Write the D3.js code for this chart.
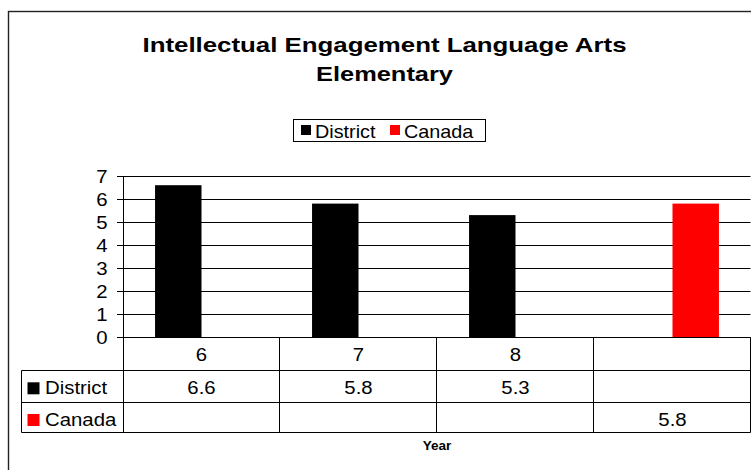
<!DOCTYPE html>
<html>
<head>
<meta charset="utf-8">
<script src="https://cdn.jsdelivr.net/npm/d3@7/dist/d3.min.js"></script>
<style>
  html, body { margin: 0; padding: 0; background: #fff; }
  svg { display: block; font-family: "Liberation Sans", Arial, sans-serif; }
</style>
</head>
<body>
<svg id="chart" width="751" height="470"></svg>
<script>
// ---- data ----
const titleLines = ["Intellectual Engagement Language Arts", "Elementary"];
const categories = ["6", "7", "8", ""];
const seriesNames = ["District", "Canada"];
const districtValues = [6.6, 5.8, 5.3, null];
const canadaValues = [null, null, null, 5.8];
const yTicks = [0, 1, 2, 3, 4, 5, 6, 7];
const xAxisTitle = "Year";
const seriesColors = ["#000000", "#FF0000"];

const series = [
  { name: seriesNames[0], values: districtValues, color: seriesColors[0] },
  { name: seriesNames[1], values: canadaValues, color: seriesColors[1] }
];

const svg = d3.select("#chart");
const SX = 1.1; // horizontal stretch of the original rendering
const FS = 18.5;

// outer frame
svg.append("rect")
  .attr("x", 8.5).attr("y", 11.5).attr("width", 760).attr("height", 470)
  .attr("fill", "none").attr("stroke", "#222").attr("stroke-width", 1.4);

// title
const titleWidths = [484, 137];
titleLines.forEach((t, i) => {
  svg.append("text")
    .attr("x", 384.5).attr("y", 52 + i * 29)
    .attr("text-anchor", "middle")
    .attr("font-size", 20.5).attr("font-weight", "bold")
    .attr("textLength", titleWidths[i]).attr("lengthAdjust", "spacingAndGlyphs")
    .attr("fill", "#000")
    .text(t);
});

function stretchedText(g, x, y, txt, anchor, size, weight) {
  return g.append("text")
    .attr("transform", `translate(${x},${y}) scale(${SX},1)`)
    .attr("text-anchor", anchor || "start")
    .attr("font-size", size || FS)
    .attr("font-weight", weight || "normal")
    .attr("fill", "#000")
    .text(txt);
}

// legend
const legend = svg.append("g");
legend.append("rect")
  .attr("x", 293.5).attr("y", 119.5).attr("width", 192).attr("height", 22)
  .attr("fill", "#fff").attr("stroke", "#000").attr("stroke-width", 1);
const legendItems = [{ x: 301 }, { x: 390 }];
series.forEach((s, i) => {
  legend.append("rect")
    .attr("x", legendItems[i].x).attr("y", 125).attr("width", 10).attr("height", 10)
    .attr("fill", s.color);
  stretchedText(legend, legendItems[i].x + 14, 137.5, s.name, "start", 18);
});

// scales
const plotLeft = 123, plotRight = 751, plotTop = 176, plotBottom = 337;
const x = d3.scaleBand().domain(categories.map((c, i) => i)).range([plotLeft, plotRight]);
const xs = d3.scaleBand().domain(seriesNames).range([0, x.bandwidth()]).paddingInner(0).paddingOuter(0.69);
const y = d3.scaleLinear().domain([0, 7]).range([plotBottom, plotTop]);

// gridlines
const grid = svg.append("g");
yTicks.forEach(v => {
  const yy = Math.round(y(v)) + 0.5;
  grid.append("line")
    .attr("x1", plotLeft - 6).attr("x2", 750.5)
    .attr("y1", yy).attr("y2", yy)
    .attr("stroke", "#000").attr("stroke-width", 1);
  stretchedText(grid, 107.5, yy + 6.5, String(v), "end", FS);
});
// y axis line
svg.append("line")
  .attr("x1", plotLeft + 0.5).attr("x2", plotLeft + 0.5)
  .attr("y1", Math.round(y(7)) + 0.5).attr("y2", 432.5)
  .attr("stroke", "#000");

// bars
const bars = svg.append("g");
series.forEach(s => {
  s.values.forEach((v, i) => {
    if (v == null) return;
    bars.append("rect")
      .attr("x", x(i) + xs(s.name))
      .attr("width", xs.bandwidth())
      .attr("y", y(v))
      .attr("height", y(0) - y(v))
      .attr("fill", s.color);
  });
});
// redraw axis line on top of bars
svg.append("line")
  .attr("x1", plotLeft - 6).attr("x2", 750.5)
  .attr("y1", Math.round(y(0)) + 0.5).attr("y2", Math.round(y(0)) + 0.5)
  .attr("stroke", "#000");

// data table
const table = svg.append("g");
const rowLines = [370, 401.7, 432.3].map(v => Math.round(v) + 0.5);
const tableLeft = 21.5;
rowLines.forEach(ry => {
  table.append("line").attr("x1", tableLeft).attr("x2", 750.5)
    .attr("y1", ry).attr("y2", ry).attr("stroke", "#000");
});
table.append("line").attr("x1", tableLeft).attr("x2", tableLeft)
  .attr("y1", rowLines[0]).attr("y2", rowLines[2]).attr("stroke", "#000");
categories.forEach((c, i) => {
  const vx = Math.round(x(i) + x.bandwidth()) - 0.5;
  table.append("line").attr("x1", vx).attr("x2", vx)
    .attr("y1", Math.round(y(0)) + 0.5).attr("y2", rowLines[2]).attr("stroke", "#000");
  // category label
  stretchedText(table, x(i) + x.bandwidth() / 2, 361, c, "middle", FS);
});
const rowBaselines = [394.3, 426];
series.forEach((s, r) => {
  table.append("rect")
    .attr("x", 27.5).attr("y", rowBaselines[r] - 12).attr("width", 12).attr("height", 12)
    .attr("fill", s.color);
  stretchedText(table, 45, rowBaselines[r], s.name, "start", FS);
  s.values.forEach((v, i) => {
    if (v == null) return;
    stretchedText(table, x(i) + x.bandwidth() / 2, rowBaselines[r], d3.format(".1f")(v), "middle", FS);
  });
});

// axis title
svg.append("text")
  .attr("x", (plotLeft + plotRight) / 2).attr("y", 450)
  .attr("text-anchor", "middle")
  .attr("font-size", 13.5).attr("font-weight", "bold")
  .text(xAxisTitle);
</script>
</body>
</html>
